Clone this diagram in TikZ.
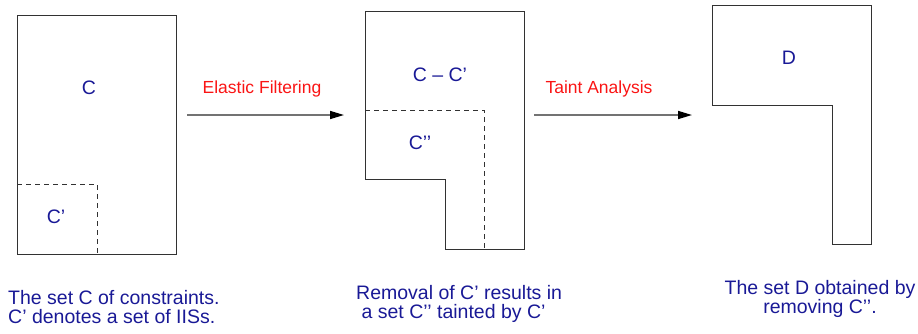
\documentclass[tikz,border=0pt]{standalone}
\usepackage{fontspec}
\setmainfont{Liberation Sans}
\usepackage{tikz}
\usetikzlibrary{arrows.meta,calc,positioning}
\definecolor{cset}{RGB}{25,25,150}
\definecolor{cstep}{RGB}{250,20,20}
\definecolor{cline}{RGB}{50,50,50}
\tikzset{
  setlab/.style={text=cset,font=\fontsize{19.5}{19}\selectfont,inner sep=0pt},
  steplab/.style={text=cstep,font=\fontsize{17.5}{20}\selectfont,inner sep=0pt},
  caption/.style={text=cset,font=\fontsize{19.5}{19}\selectfont,inner sep=0pt},
  % outlines of the sets, dashed parts for the subsets
  outline/.style={draw=cline,line width=1pt},
  subset/.style={draw=cline,line width=1pt,dash pattern=on 5pt off 4pt},
  arr/.style={draw=black!55,line width=1.6pt,
    -{Triangle[length=14pt,width=8pt,color=black]}}
}
\begin{document}
\begin{tikzpicture}[x=1pt,y=-1pt]
  \useasboundingbox (0,0) rectangle (918,333);
  % the set C
  \draw[outline] (17,15) rectangle (176,254);
  \draw[subset] (17,184) -| (97,254);
  \node[setlab] (C) at (89,88) {C};
  \node[setlab] (Cp) at (56,217) {C’};
  % C - C'
  \draw[outline] (365,11) -- (524,11) -- (524,249) -- (445,249) -- (445,179)
    -- (365,179) -- cycle;
  \draw[subset] (365,110) -| (484,249);
  \node[setlab] (CmCp) at (440,75) {C – C’};
  \node[setlab] (Cpp) at (420,143) {C’’};
  % the set D
  \draw[outline] (712,5) -- (871,5) -- (871,244) -- (832,244) -- (832,105)
    -- (712,105) -- cycle;
  \node[setlab] (D) at (789,58) {D};
  % steps
  \coordinate (a1) at (187,115);
  \coordinate (b1) at (344,115);
  \coordinate (a2) at (534,115);
  \coordinate (b2) at (692,115);
  \draw[arr] (a1) -- (b1);
  \draw[arr] (a2) -- (b2);
  \node[steplab] (ef) at (262,89) {Elastic Filtering};
  \node[steplab] (ta) at (599,89) {Taint Analysis};
  % captions
  \node[caption,align=left,anchor=north west] (capC) at (8,290)
    {The set C of constraints.\\C’ denotes a set of IISs.};
  \node[caption,align=left,anchor=north west] (capCpp) at (356,285)
    {Removal of C’ results in\\\ a set C’’ tainted by C’};
  \node[caption,align=center,anchor=north] (capD) at (820,280)
    {The set D obtained by\\removing C’’.};
\end{tikzpicture}
\end{document}
